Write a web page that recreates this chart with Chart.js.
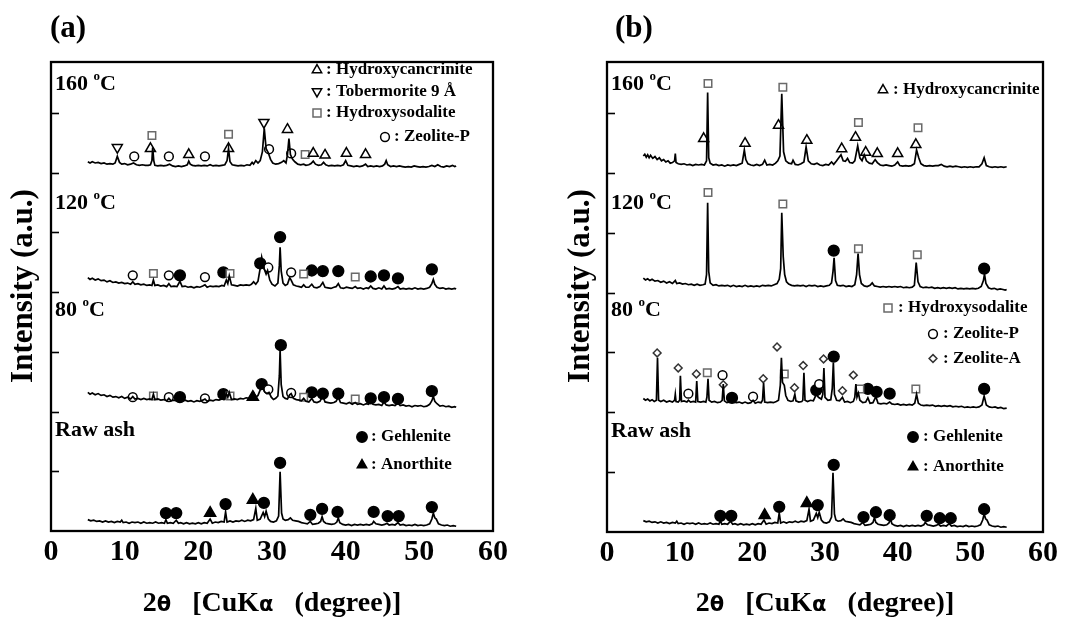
<!DOCTYPE html>
<html><head><meta charset="utf-8">
<script src="https://cdn.jsdelivr.net/npm/chart.js@4.4.0/dist/chart.umd.min.js"></script>
<style>
html,body{margin:0;padding:0;background:#fff;width:1089px;height:619px;overflow:hidden}
canvas{position:absolute;top:0}
#ca{left:0}
#cb{left:545px}
</style></head><body>
<canvas id="ca" width="545" height="619"></canvas>
<canvas id="cb" width="544" height="619"></canvas>
<script>
// ---------- DATA ----------
const panelLabels = ['(a)', '(b)'];
const traceNames = ['160', '120', '80', 'Raw ash'];   // temperatures in °C
const xTickStep = 10, xMin = 0, xMax = 60;
const xTitle = ['2', 'θ', '   [CuK', 'α', '   (degree)]'];
const yTitle = 'Intensity (a.u.)';

// Raw ash (same sample in both panels): flat [x, y, x, y ...]
const rawAsh = [5,0.19, 5.4,0.17, 5.8,0.18, 6.2,0.16, 6.6,0.17, 7,0.15, 7.4,0.17, 7.8,0.15, 8.2,0.16, 8.6,0.14, 9,0.16, 9.4,0.15, 9.6,0.18, 9.8,0.14, 10.2,0.15, 10.6,0.13, 11,0.15, 11.4,0.14, 11.8,0.15, 12.2,0.13, 12.6,0.15, 13,0.13, 13.4,0.14, 13.8,0.13, 14.2,0.15, 14.6,0.13, 15,0.14, 15.4,0.13, 15.6,0.19, 15.8,0.13, 16.2,0.14, 16.6,0.13, 17,0.18, 17.3,0.13, 17.6,0.14, 18,0.12, 18.4,0.14, 18.8,0.12, 19.2,0.13, 19.6,0.12, 20,0.14, 20.4,0.12, 20.8,0.14, 21.2,0.13, 21.6,0.2, 21.9,0.13, 22.3,0.15, 22.7,0.14, 23.1,0.16, 23.5,0.15, 23.7,0.32, 23.9,0.15, 24.3,0.17, 24.7,0.15, 25.1,0.17, 25.5,0.16, 25.9,0.18, 26.3,0.16, 26.7,0.18, 27.1,0.17, 27.5,0.19, 27.8,0.38, 28.0,0.18, 28.4,0.2, 28.8,0.31, 29.0,0.24, 29.2,0.33, 29.5,0.2, 29.8,0.16, 30.2,0.15, 30.6,0.17, 30.9,0.25, 31.1,0.99, 31.3,0.3, 31.5,0.2, 31.8,0.18, 32.2,0.19, 32.5,0.22, 32.8,0.18, 33.2,0.17, 33.6,0.16, 34,0.14, 34.4,0.13, 34.8,0.12, 35.2,0.16, 35.5,0.11, 35.9,0.12, 36.3,0.13, 36.6,0.16, 36.8,0.24, 37.0,0.16, 37.3,0.13, 37.7,0.12, 38.1,0.11, 38.5,0.12, 38.8,0.15, 39.0,0.22, 39.2,0.14, 39.6,0.11, 40,0.1, 40.4,0.11, 40.8,0.09, 41.2,0.11, 41.6,0.1, 42,0.11, 42.4,0.1, 42.8,0.11, 43.2,0.1, 43.6,0.12, 43.8,0.16, 44.1,0.12, 44.5,0.11, 44.9,0.1, 45.3,0.11, 45.6,0.13, 45.9,0.1, 46.3,0.11, 46.7,0.1, 47.1,0.14, 47.4,0.1, 47.8,0.11, 48.2,0.09, 48.6,0.1, 49,0.09, 49.4,0.11, 49.8,0.09, 50.2,0.1, 50.6,0.09, 51,0.1, 51.4,0.12, 51.7,0.2, 51.9,0.3, 52.1,0.22, 52.3,0.2, 52.6,0.12, 53,0.1, 53.4,0.09, 53.8,0.1, 54.2,0.08, 54.6,0.09, 55,0.08];

// Panel (a)
const a80 = [5,2.32, 5.3,2.29, 5.6,2.31, 6,2.28, 6.4,2.3, 6.8,2.27, 7.2,2.28, 7.6,2.25, 8,2.27, 8.4,2.24, 8.8,2.25, 9.2,2.23, 9.6,2.25, 10,2.22, 10.4,2.24, 10.8,2.21, 11.1,2.25, 11.4,2.21, 11.8,2.22, 12.2,2.2, 12.6,2.22, 13,2.2, 13.4,2.21, 13.7,2.2, 13.9,2.29, 14.1,2.2, 14.5,2.21, 14.9,2.19, 15.3,2.2, 15.7,2.18, 16,2.22, 16.3,2.18, 16.7,2.19, 17.1,2.18, 17.5,2.26, 17.8,2.18, 18.2,2.19, 18.6,2.17, 19,2.18, 19.4,2.16, 19.8,2.18, 20.2,2.17, 20.6,2.19, 20.9,2.21, 21.2,2.17, 21.6,2.19, 22,2.18, 22.4,2.2, 22.8,2.19, 23.2,2.21, 23.5,2.2, 23.8,2.3, 24.0,2.24, 24.2,2.32, 24.5,2.2, 24.9,2.21, 25.3,2.2, 25.7,2.22, 26.1,2.21, 26.5,2.23, 26.9,2.22, 27.2,2.24, 27.5,2.32, 27.8,2.24, 28.1,2.27, 28.4,2.36, 28.7,2.41, 29.0,2.33, 29.3,2.3, 29.6,2.32, 29.9,2.24, 30.2,2.2, 30.5,2.22, 30.8,2.26, 31.0,2.6, 31.1,3.03, 31.25,2.45, 31.5,2.25, 31.8,2.22, 32.1,2.21, 32.4,2.28, 32.6,2.3, 32.9,2.22, 33.3,2.2, 33.7,2.19, 34.0,2.18, 34.3,2.22, 34.6,2.17, 35.0,2.16, 35.4,2.22, 35.7,2.16, 36.1,2.15, 36.5,2.17, 36.9,2.26, 37.2,2.16, 37.6,2.15, 38,2.14, 38.4,2.15, 38.7,2.17, 39.0,2.24, 39.3,2.15, 39.7,2.14, 40.1,2.13, 40.5,2.15, 40.9,2.12, 41.3,2.15, 41.6,2.12, 42,2.13, 42.4,2.11, 42.8,2.13, 43.1,2.12, 43.4,2.17, 43.7,2.12, 44.1,2.11, 44.5,2.12, 44.9,2.1, 45.2,2.16, 45.5,2.11, 45.9,2.1, 46.3,2.11, 46.7,2.1, 47.1,2.14, 47.4,2.1, 47.8,2.11, 48.2,2.09, 48.6,2.1, 49,2.08, 49.4,2.1, 49.8,2.09, 50.2,2.1, 50.6,2.08, 51,2.09, 51.4,2.12, 51.7,2.18, 51.9,2.25, 52.1,2.17, 52.4,2.13, 52.8,2.09, 53.2,2.1, 53.6,2.08, 54,2.09, 54.4,2.07, 54.8,2.08, 55,2.07];
const a120 = [5,4.24, 5.3,4.21, 5.6,4.23, 6,4.2, 6.4,4.22, 6.8,4.19, 7.2,4.2, 7.6,4.17, 8,4.19, 8.4,4.16, 8.8,4.17, 9.2,4.15, 9.6,4.16, 10,4.14, 10.4,4.15, 10.8,4.13, 11.1,4.17, 11.4,4.13, 11.8,4.14, 12.2,4.12, 12.6,4.13, 13,4.11, 13.4,4.12, 13.7,4.11, 13.9,4.2, 14.1,4.11, 14.5,4.12, 14.9,4.1, 15.3,4.11, 15.7,4.09, 16,4.14, 16.3,4.09, 16.7,4.1, 17.1,4.09, 17.5,4.18, 17.8,4.09, 18.2,4.1, 18.6,4.08, 19,4.09, 19.4,4.07, 19.8,4.09, 20.2,4.08, 20.6,4.1, 20.9,4.12, 21.2,4.08, 21.6,4.1, 22,4.09, 22.4,4.1, 22.8,4.09, 23.2,4.11, 23.5,4.1, 23.8,4.2, 24.0,4.14, 24.2,4.27, 24.5,4.12, 24.9,4.11, 25.3,4.1, 25.7,4.12, 26.1,4.11, 26.5,4.12, 26.9,4.11, 27.2,4.13, 27.5,4.17, 27.8,4.13, 28.1,4.18, 28.4,4.4, 28.6,4.58, 28.9,4.4, 29.2,4.3, 29.4,4.36, 29.7,4.2, 30.0,4.13, 30.4,4.1, 30.8,4.15, 31.0,4.45, 31.1,4.75, 31.25,4.35, 31.5,4.15, 31.8,4.11, 32.1,4.13, 32.4,4.24, 32.6,4.2, 32.9,4.12, 33.3,4.1, 33.7,4.09, 34.0,4.08, 34.3,4.12, 34.6,4.08, 35.0,4.08, 35.4,4.13, 35.7,4.08, 36.1,4.07, 36.5,4.09, 36.9,4.16, 37.2,4.08, 37.6,4.07, 38,4.06, 38.4,4.08, 38.7,4.09, 39.0,4.14, 39.3,4.07, 39.7,4.06, 40.1,4.08, 40.5,4.07, 40.9,4.06, 41.3,4.09, 41.6,4.06, 42,4.07, 42.4,4.05, 42.8,4.07, 43.1,4.06, 43.4,4.1, 43.7,4.06, 44.1,4.05, 44.5,4.07, 44.9,4.05, 45.2,4.1, 45.5,4.05, 45.9,4.06, 46.3,4.05, 46.7,4.06, 47.1,4.09, 47.4,4.05, 47.8,4.06, 48.2,4.05, 48.6,4.06, 49,4.05, 49.4,4.07, 49.8,4.05, 50.2,4.06, 50.6,4.05, 51,4.06, 51.4,4.08, 51.7,4.14, 51.9,4.21, 52.1,4.13, 52.4,4.08, 52.8,4.06, 53.2,4.07, 53.6,4.05, 54,4.06, 54.4,4.05, 54.8,4.06, 55,4.05];
const a160 = [5,6.18, 5.3,6.16, 5.6,6.18, 6,6.16, 6.4,6.17, 6.8,6.15, 7.2,6.16, 7.6,6.14, 8,6.15, 8.4,6.14, 8.7,6.16, 9.0,6.27, 9.3,6.17, 9.6,6.14, 10,6.15, 10.4,6.13, 10.8,6.14, 11.2,6.16, 11.6,6.13, 12,6.12, 12.4,6.13, 12.8,6.12, 13.2,6.12, 13.5,6.13, 13.7,6.2, 13.8,6.42, 13.95,6.2, 14.1,6.12, 14.5,6.11, 14.9,6.12, 15.3,6.11, 15.7,6.12, 16.1,6.14, 16.5,6.11, 16.9,6.1, 17.3,6.11, 17.7,6.1, 18.1,6.11, 18.5,6.13, 18.7,6.19, 18.9,6.14, 19.2,6.12, 19.6,6.11, 20,6.12, 20.4,6.11, 20.8,6.12, 21.2,6.11, 21.6,6.13, 22,6.11, 22.4,6.12, 22.8,6.11, 23.2,6.12, 23.6,6.13, 23.9,6.2, 24.1,6.4, 24.3,6.18, 24.6,6.13, 25,6.12, 25.4,6.11, 25.8,6.12, 26.2,6.11, 26.6,6.13, 27,6.12, 27.3,6.17, 27.5,6.14, 27.8,6.2, 28.1,6.16, 28.4,6.2, 28.7,6.35, 28.95,6.74, 29.2,6.4, 29.5,6.33, 29.8,6.22, 30.1,6.16, 30.5,6.14, 30.9,6.15, 31.3,6.17, 31.6,6.2, 31.9,6.16, 32.1,6.3, 32.3,6.57, 32.5,6.3, 32.8,6.22, 33.1,6.18, 33.5,6.14, 33.9,6.13, 34.3,6.14, 34.6,6.12, 35,6.13, 35.3,6.15, 35.6,6.19, 35.9,6.14, 36.3,6.12, 36.7,6.13, 37.0,6.17, 37.3,6.13, 37.7,6.11, 38.1,6.12, 38.5,6.11, 38.9,6.12, 39.3,6.11, 39.7,6.13, 40.0,6.2, 40.3,6.12, 40.7,6.11, 41.1,6.1, 41.5,6.11, 41.9,6.1, 42.3,6.11, 42.7,6.14, 43,6.1, 43.4,6.11, 43.8,6.1, 44.2,6.11, 44.6,6.1, 45,6.11, 45.3,6.14, 45.5,6.2, 45.7,6.13, 46.1,6.1, 46.5,6.11, 46.9,6.1, 47.3,6.11, 47.7,6.1, 48.1,6.09, 48.5,6.1, 48.9,6.09, 49.3,6.11, 49.7,6.1, 50.1,6.09, 50.5,6.1, 50.9,6.09, 51.3,6.1, 51.7,6.12, 52.1,6.1, 52.5,6.13, 52.9,6.1, 53.3,6.09, 53.7,6.11, 54.1,6.1, 54.5,6.12, 54.8,6.1, 55,6.11];

// Panel (b)
const b80 = [5,2.23, 5.3,2.2, 5.6,2.22, 5.9,2.19, 6.2,2.21, 6.5,2.18, 6.8,2.2, 6.95,2.91, 7.1,2.2, 7.4,2.18, 7.8,2.2, 8.2,2.17, 8.6,2.19, 9.0,2.17, 9.3,2.2, 9.4,2.3, 9.5,2.18, 9.8,2.17, 10.0,2.2, 10.1,2.61, 10.25,2.18, 10.6,2.19, 11,2.17, 11.2,2.2, 11.5,2.17, 11.9,2.18, 12.2,2.17, 12.35,2.52, 12.5,2.18, 12.9,2.17, 13.3,2.18, 13.6,2.17, 13.75,2.25, 13.9,2.56, 14.05,2.2, 14.4,2.17, 14.8,2.18, 15.2,2.16, 15.6,2.17, 15.85,2.2, 16.0,2.47, 16.15,2.19, 16.5,2.16, 16.9,2.17, 17.2,2.24, 17.4,2.17, 17.8,2.16, 18.2,2.17, 18.6,2.15, 19,2.17, 19.4,2.15, 19.8,2.16, 20.1,2.2, 20.4,2.15, 20.8,2.17, 21.2,2.16, 21.4,2.2, 21.55,2.49, 21.7,2.17, 22.1,2.16, 22.5,2.17, 22.9,2.16, 23.3,2.18, 23.6,2.2, 23.85,2.45, 24.0,2.91, 24.15,2.5, 24.4,2.45, 24.6,2.28, 24.9,2.2, 25.3,2.18, 25.6,2.19, 25.85,2.3, 26.0,2.19, 26.4,2.17, 26.8,2.18, 26.95,2.2, 27.1,2.66, 27.25,2.2, 27.6,2.18, 28,2.2, 28.4,2.19, 28.8,2.3, 29.1,2.25, 29.5,2.22, 29.7,2.3, 29.85,2.74, 30.0,2.25, 30.4,2.2, 30.8,2.21, 31.0,2.4, 31.15,2.83, 31.3,2.3, 31.6,2.2, 32.0,2.19, 32.4,2.25, 32.7,2.17, 33.1,2.18, 33.5,2.16, 33.9,2.18, 34.1,2.25, 34.25,2.47, 34.4,2.25, 34.6,2.32, 34.8,2.2, 35.2,2.16, 35.6,2.17, 35.9,2.24, 36.2,2.15, 36.6,2.16, 37.0,2.26, 37.3,2.15, 37.7,2.14, 38.1,2.15, 38.5,2.14, 38.9,2.17, 39.2,2.14, 39.6,2.13, 40,2.14, 40.4,2.12, 40.8,2.13, 41.2,2.12, 41.6,2.13, 42,2.12, 42.35,2.15, 42.6,2.3, 42.85,2.15, 43.2,2.12, 43.6,2.11, 44,2.12, 44.4,2.11, 44.8,2.12, 45.2,2.1, 45.6,2.11, 46,2.1, 46.4,2.11, 46.8,2.1, 47.2,2.11, 47.6,2.09, 48,2.1, 48.4,2.09, 48.8,2.1, 49.2,2.08, 49.6,2.09, 50,2.08, 50.4,2.09, 50.8,2.08, 51.2,2.09, 51.6,2.12, 51.9,2.27, 52.2,2.12, 52.6,2.09, 53,2.08, 53.4,2.09, 53.8,2.07, 54.2,2.08, 54.6,2.06, 55,2.07];
const b120 = [5,4.24, 5.3,4.21, 5.6,4.23, 5.9,4.2, 6.2,4.22, 6.6,4.19, 7,4.2, 7.4,4.17, 7.8,4.19, 8.2,4.16, 8.6,4.18, 9,4.15, 9.4,4.2, 9.6,4.15, 10,4.16, 10.4,4.14, 10.8,4.15, 11.2,4.13, 11.6,4.14, 12,4.12, 12.4,4.14, 12.8,4.12, 13.2,4.13, 13.5,4.14, 13.7,4.3, 13.85,5.5, 14.0,4.35, 14.2,4.16, 14.6,4.12, 15,4.13, 15.4,4.11, 15.8,4.12, 16.2,4.11, 16.6,4.12, 17,4.1, 17.4,4.12, 17.8,4.1, 18.2,4.11, 18.6,4.1, 19,4.12, 19.4,4.1, 19.8,4.11, 20.2,4.1, 20.6,4.11, 21,4.1, 21.4,4.12, 21.8,4.11, 22.2,4.12, 22.6,4.11, 23,4.13, 23.4,4.15, 23.7,4.22, 23.9,4.4, 24.05,5.33, 24.25,4.6, 24.45,4.3, 24.7,4.18, 25,4.14, 25.4,4.12, 25.8,4.11, 26.2,4.12, 26.6,4.11, 27,4.12, 27.4,4.1, 27.8,4.12, 28.2,4.11, 28.6,4.12, 29,4.1, 29.4,4.11, 29.8,4.1, 30.2,4.11, 30.6,4.12, 30.9,4.16, 31.1,4.35, 31.25,4.58, 31.45,4.2, 31.7,4.12, 32.1,4.11, 32.5,4.12, 32.9,4.1, 33.3,4.11, 33.7,4.1, 34.1,4.13, 34.35,4.3, 34.55,4.65, 34.75,4.3, 35,4.15, 35.4,4.11, 35.8,4.1, 36.2,4.12, 36.5,4.16, 36.8,4.11, 37.2,4.1, 37.6,4.09, 38,4.1, 38.4,4.09, 38.8,4.1, 39.2,4.09, 39.6,4.1, 40,4.09, 40.4,4.1, 40.8,4.08, 41.2,4.09, 41.6,4.08, 42,4.09, 42.3,4.12, 42.55,4.5, 42.8,4.18, 43.1,4.1, 43.5,4.08, 43.9,4.09, 44.3,4.08, 44.7,4.09, 45.1,4.07, 45.5,4.08, 45.9,4.07, 46.3,4.08, 46.7,4.07, 47.1,4.08, 47.5,4.07, 47.9,4.08, 48.3,4.06, 48.7,4.07, 49.1,4.06, 49.5,4.07, 49.9,4.06, 50.3,4.07, 50.7,4.06, 51.1,4.07, 51.5,4.1, 51.8,4.2, 51.95,4.31, 52.15,4.15, 52.5,4.08, 52.9,4.06, 53.3,4.07, 53.7,4.05, 54.1,4.06, 54.5,4.05, 54.8,4.04, 55,4.05];
const b160 = [5,6.28, 5.2,6.31, 5.4,6.26, 5.6,6.3, 5.8,6.25, 6,6.29, 6.3,6.24, 6.6,6.27, 6.9,6.22, 7.2,6.25, 7.5,6.2, 7.8,6.22, 8.1,6.18, 8.4,6.2, 8.7,6.16, 9.0,6.17, 9.3,6.2, 9.4,6.32, 9.5,6.17, 9.8,6.15, 10.2,6.14, 10.6,6.15, 11,6.13, 11.4,6.14, 11.8,6.12, 12.2,6.14, 12.6,6.13, 13,6.14, 13.4,6.13, 13.7,6.2, 13.85,7.34, 14.0,6.25, 14.2,6.16, 14.6,6.13, 15,6.14, 15.4,6.12, 15.8,6.13, 16.2,6.11, 16.6,6.13, 17,6.12, 17.4,6.13, 17.8,6.12, 18.2,6.14, 18.6,6.16, 18.9,6.38, 19.1,6.22, 19.4,6.15, 19.8,6.13, 20.2,6.12, 20.6,6.14, 21,6.12, 21.4,6.14, 21.7,6.21, 22,6.13, 22.4,6.14, 22.8,6.13, 23.2,6.16, 23.5,6.2, 23.8,6.28, 24.05,7.32, 24.3,6.35, 24.6,6.2, 25,6.16, 25.4,6.15, 25.6,6.21, 25.9,6.14, 26.3,6.13, 26.7,6.15, 27.1,6.18, 27.4,6.43, 27.7,6.2, 28.1,6.15, 28.5,6.14, 28.9,6.16, 29.3,6.13, 29.7,6.12, 30.1,6.14, 30.5,6.13, 30.9,6.18, 31.2,6.14, 31.6,6.2, 31.9,6.25, 32.2,6.3, 32.5,6.2, 32.8,6.19, 33.1,6.24, 33.4,6.17, 33.8,6.16, 34.1,6.2, 34.5,6.45, 34.8,6.25, 35.1,6.2, 35.4,6.3, 35.7,6.2, 36.1,6.16, 36.5,6.15, 36.9,6.22, 37.2,6.17, 37.6,6.13, 38,6.12, 38.4,6.13, 38.8,6.12, 39.2,6.11, 39.6,6.13, 40.0,6.18, 40.3,6.12, 40.7,6.11, 41.1,6.12, 41.5,6.11, 41.9,6.12, 42.3,6.15, 42.6,6.38, 42.9,6.25, 43.2,6.15, 43.6,6.12, 44,6.11, 44.4,6.12, 44.8,6.11, 45.2,6.12, 45.6,6.12, 46,6.14, 46.4,6.11, 46.8,6.1, 47.2,6.11, 47.6,6.1, 48,6.11, 48.4,6.1, 48.8,6.09, 49.2,6.1, 49.6,6.09, 50,6.1, 50.4,6.09, 50.8,6.1, 51.2,6.1, 51.6,6.15, 51.9,6.25, 52.2,6.12, 52.6,6.1, 53,6.09, 53.4,6.1, 53.8,6.09, 54.2,6.1, 54.6,6.09, 55,6.1];

// Peak markers [2θ, intensity]
// tri = hydroxycancrinite, invTri = tobermorite, sq = hydroxysodalite, oc = zeolite-P,
// fc = gehlenite, ft = anorthite, dia = zeolite-A
const a160_invTri = [[9.0,6.42],[28.9,6.84]];
const a160_tri = [[13.5,6.4],[18.7,6.3],[24.1,6.4],[32.1,6.72],[35.6,6.32],[37.2,6.29],[40.1,6.32],[42.7,6.3]];
const a160_sq = [[13.7,6.62],[24.1,6.64],[34.5,6.3]];
const a160_oc = [[11.3,6.27],[16.0,6.27],[20.9,6.27],[29.6,6.39],[32.6,6.32]];
const a120_oc = [[11.1,4.28],[16.0,4.28],[20.9,4.25],[29.5,4.41],[32.6,4.33]];
const a120_sq = [[13.9,4.31],[24.3,4.31],[34.3,4.3],[41.3,4.25]];
const a120_fc = [[17.5,4.28],[23.4,4.33],[28.4,4.48],[31.1,4.92],[35.4,4.36],[36.9,4.35],[39.0,4.35],[43.4,4.26],[45.2,4.28],[47.1,4.23],[51.7,4.38]];
const a80_oc = [[11.1,2.24],[16.0,2.24],[20.9,2.22],[29.5,2.37],[32.6,2.31]];
const a80_sq = [[13.9,2.26],[24.3,2.26],[34.3,2.24],[41.3,2.21]];
const a80_fc = [[17.5,2.24],[23.4,2.29],[28.6,2.46],[31.2,3.11],[35.4,2.32],[36.9,2.3],[39.0,2.3],[43.4,2.22],[45.2,2.24],[47.1,2.21],[51.7,2.34]];
const a80_ft = [[27.4,2.24]];
const aRaw_fc = [[15.6,0.3],[17.0,0.3],[23.7,0.45],[28.9,0.47],[31.1,1.14],[35.2,0.27],[36.8,0.37],[38.9,0.32],[43.8,0.32],[45.7,0.25],[47.2,0.25],[51.7,0.4]];
const aRaw_ft = [[21.6,0.3],[27.4,0.52]];

const b160_sq = [[13.9,7.49],[24.2,7.43],[34.6,6.84],[42.8,6.75]];
const b160_tri = [[13.3,6.57],[19.0,6.49],[23.6,6.79],[27.5,6.54],[32.3,6.4],[34.2,6.59],[35.6,6.34],[37.2,6.32],[40.0,6.32],[42.5,6.47]];
const b120_sq = [[13.9,5.67],[24.2,5.48],[34.6,4.73],[42.7,4.63]];
const b120_fc = [[31.2,4.7],[51.9,4.4]];
const b80_dia = [[6.9,2.99],[9.8,2.74],[12.3,2.64],[16.0,2.46],[21.5,2.56],[23.4,3.09],[25.8,2.41],[27.0,2.78],[29.8,2.89],[32.4,2.36],[33.9,2.62]];
const b80_sq = [[13.8,2.66],[24.4,2.64],[34.8,2.39],[42.5,2.39]];
const b80_oc = [[11.2,2.31],[15.9,2.62],[20.1,2.26],[29.2,2.47]];
const b80_fc = [[17.2,2.24],[28.8,2.37],[31.2,2.93],[35.9,2.39],[37.1,2.34],[38.9,2.31],[51.9,2.39]];
const bRaw_fc = [[15.6,0.27],[17.1,0.27],[23.7,0.42],[29.0,0.45],[31.2,1.12],[35.3,0.25],[37.0,0.33],[38.9,0.28],[44.0,0.27],[45.8,0.23],[47.3,0.23],[51.9,0.38]];
const bRaw_ft = [[21.7,0.28],[27.5,0.48]];

const legendA1 = [['tri',': Hydroxycancrinite'],['invTri',': Tobermorite 9 Å'],['sq',': Hydroxysodalite'],['oc',': Zeolite-P']];
const legendRaw = [['fc',': Gehlenite'],['ft',': Anorthite']];
const legendB1 = [['tri',': Hydroxycancrinite']];
const legendB2 = [['sq',': Hydroxysodalite'],['oc',': Zeolite-P'],['dia',': Zeolite-A']];

// ---------- RENDERING ----------
const SERIF = '"Liberation Serif","Times New Roman",serif';
const SANS = '"DejaVu Sans",sans-serif';
function pairs(flat){ const o=[]; for(let i=0;i<flat.length;i+=2) o.push({x:flat[i],y:flat[i+1]}); return o; }
function pts(arr){ return arr.map(p=>({x:p[0],y:p[1]})); }
const MARK = {
  tri:{ps:'triangle',r:5.8,fill:false,color:'#000',rot:0},
  invTri:{ps:'triangle',r:5.8,fill:false,color:'#000',rot:180},
  sq:{ps:'rect',r:5.3,fill:false,color:'#6a6a6a',rot:0},
  oc:{ps:'circle',r:4.4,fill:false,color:'#000',rot:0},
  fc:{ps:'circle',r:5.4,fill:true,color:'#000',rot:0},
  ft:{ps:'triangle',r:6.4,fill:true,color:'#000',rot:0},
  dia:{ps:'rectRot',r:3.9,fill:false,color:'#333',rot:0}
};
function markerSet(kind, arr){
  const m = MARK[kind];
  return {data:pts(arr), showLine:false, pointStyle:m.ps, pointRadius:m.r, pointHoverRadius:m.r,
    pointRotation:m.rot, pointBorderColor:m.color, pointBackgroundColor:m.fill?m.color:'#fff',
    pointBorderWidth:1.5};
}
function traceSet(flat){
  return {data:pairs(flat), showLine:true, pointRadius:0, pointHoverRadius:0, borderColor:'#000', borderWidth:1.7, tension:0, fill:false};
}
function drawSym(ctx, kind, x, y){
  const m = MARK[kind];
  ctx.save(); ctx.lineWidth = 1.5; ctx.strokeStyle = m.color; ctx.fillStyle = m.color;
  ctx.beginPath();
  if (kind==='tri'||kind==='ft'||kind==='invTri'){
    const r = 5.4, s = kind==='invTri' ? -1 : 1;
    ctx.moveTo(x, y - s*r); ctx.lineTo(x + r*0.866, y + s*r*0.5); ctx.lineTo(x - r*0.866, y + s*r*0.5); ctx.closePath();
  } else if (kind==='sq'){ ctx.rect(x-4, y-4, 8, 8); }
  else if (kind==='dia'){ const r=3.9; ctx.moveTo(x,y-r); ctx.lineTo(x+r,y); ctx.lineTo(x,y+r); ctx.lineTo(x-r,y); ctx.closePath(); }
  else { ctx.arc(x, y, kind==='fc'?5.2:4.4, 0, Math.PI*2); }
  if (m.fill) ctx.fill();
  ctx.stroke(); ctx.restore();
}
function drawTemp(ctx, t, x, y){
  ctx.font = 'bold 22px ' + SERIF; ctx.textBaseline = 'middle'; ctx.textAlign = 'left'; ctx.fillStyle = '#000';
  if (t === 'Raw ash'){ ctx.fillText(t, x, y); return; }
  const s = t + ' ';
  ctx.fillText(s, x, y); let w = ctx.measureText(s).width;
  ctx.font = 'bold 13px ' + SERIF; ctx.fillText('o', x + w, y - 7); w += ctx.measureText('o').width;
  ctx.font = 'bold 22px ' + SERIF; ctx.fillText('C', x + w, y);
}
function drawXTitle(ctx, cx, y){
  const fonts = ['bold 28px '+SERIF, 'bold 21px '+SANS, 'bold 28px '+SERIF, 'bold 21px '+SANS, 'bold 28px '+SERIF];
  let total = 0; const ws = [];
  xTitle.forEach((t,i)=>{ ctx.font = fonts[i]; const w = ctx.measureText(t).width; ws.push(w); total += w; });
  let x = cx - total/2; ctx.textBaseline = 'alphabetic'; ctx.textAlign = 'left'; ctx.fillStyle = '#000';
  xTitle.forEach((t,i)=>{ ctx.font = fonts[i]; ctx.fillText(t, x, y); x += ws[i]; });
}
function deco(cfg){
  return { id:'deco', afterDraw(chart){
    const ctx = chart.ctx, a = chart.chartArea, ys = chart.scales.y;
    ctx.save();
    ctx.strokeStyle = '#000'; ctx.lineWidth = 1.6;
    ys.ticks.forEach(t => { if (t.value <= ys.min || t.value >= ys.max) return; const py = Math.round(ys.getPixelForValue(t.value)) + 0.5;
      ctx.beginPath(); ctx.moveTo(a.left, py); ctx.lineTo(a.left + 8, py); ctx.stroke(); });
    ctx.lineWidth = 2.3; ctx.strokeRect(a.left, a.top, a.right - a.left, a.bottom - a.top);
    ctx.fillStyle = '#000';
    ctx.font = 'bold 31px ' + SERIF; ctx.textBaseline = 'middle'; ctx.textAlign = 'left';
    ctx.fillText(cfg.panel, cfg.panelX, 29);
    cfg.temps.forEach((p,i) => drawTemp(ctx, traceNames[i], a.left + 4, p));
    cfg.legends.forEach(L => { L.items.forEach((it, j) => {
      const y = L.y + j * L.dy; drawSym(ctx, it[0], L.sx, y);
      ctx.font = 'bold 17px ' + SERIF; ctx.textBaseline = 'middle'; ctx.fillStyle = '#000';
      ctx.fillText(it[1], L.sx + L.tx, y); }); });
    ctx.save(); ctx.translate(cfg.yTitleX, cfg.yTitleY); ctx.rotate(-Math.PI/2);
    ctx.font = 'bold 31px ' + SERIF; ctx.textAlign = 'center'; ctx.textBaseline = 'middle'; ctx.fillText(yTitle, 0, 0);
    ctx.restore();
    drawXTitle(ctx, (a.left + a.right)/2, 611);
    ctx.restore();
  }};
}
function makeChart(id, datasets, cfg){
  new Chart(document.getElementById(id), {
    type:'scatter',
    data:{datasets},
    options:{
      responsive:false, animation:false, devicePixelRatio:1, events:[],
      layout:{padding:{top:62, right:cfg.padRight, left:0, bottom:0}},
      plugins:{legend:{display:false}, tooltip:{enabled:false}},
      scales:{
        x:{type:'linear', min:xMin, max:xMax, grid:{display:false, drawTicks:false}, border:{display:false},
           ticks:{stepSize:xTickStep, autoSkip:false, maxRotation:0, padding:3, color:'#000', font:{family:SERIF, size:30, weight:'bold'}},
           afterFit:s=>{ s.height = cfg.xh; }},
        y:{type:'linear', min:0, max:7.85, grid:{display:false, drawTicks:false}, border:{display:false},
           ticks:{display:false, stepSize:1}, afterFit:s=>{ s.width = cfg.yw; }}
      }
    },
    plugins:[deco(cfg)]
  });
}
// traces first so they are drawn on top of the (white-filled) markers
const dsA = [
  traceSet(a160), traceSet(a120), traceSet(a80), traceSet(rawAsh),
  markerSet('invTri', a160_invTri), markerSet('tri', a160_tri), markerSet('sq', a160_sq), markerSet('oc', a160_oc),
  markerSet('oc', a120_oc), markerSet('sq', a120_sq), markerSet('fc', a120_fc),
  markerSet('oc', a80_oc), markerSet('sq', a80_sq), markerSet('fc', a80_fc), markerSet('ft', a80_ft),
  markerSet('fc', aRaw_fc), markerSet('ft', aRaw_ft)
];
const dsB = [
  traceSet(b160), traceSet(b120), traceSet(b80), traceSet(rawAsh),
  markerSet('sq', b160_sq), markerSet('tri', b160_tri),
  markerSet('sq', b120_sq), markerSet('fc', b120_fc),
  markerSet('dia', b80_dia), markerSet('sq', b80_sq), markerSet('oc', b80_oc), markerSet('fc', b80_fc),
  markerSet('fc', bRaw_fc), markerSet('ft', bRaw_ft)
];
makeChart('ca', dsA, {padRight:52, xh:88, yw:51, panel:panelLabels[0], panelX:50, temps:[84,203,310,430],
  yTitleX:24, yTitleY:286,
  legends:[{items:legendA1.slice(0,3), sx:317, tx:9, y:70, dy:21.5},{items:legendA1.slice(3), sx:385, tx:9, y:137, dy:0},
           {items:legendRaw, sx:362, tx:9, y:437, dy:28}]});
makeChart('cb', dsB, {padRight:46, xh:87, yw:62, panel:panelLabels[1], panelX:70, temps:[84,203,310,431],
  yTitleX:36, yTitleY:286,
  legends:[{items:legendB1, sx:338, tx:10, y:90, dy:0},{items:legendB2.slice(0,1), sx:343, tx:10, y:308, dy:0},
           {items:legendB2.slice(1), sx:388, tx:10, y:334, dy:24.5},{items:legendRaw, sx:368, tx:10, y:437, dy:30}]});
</script>
</body></html>
